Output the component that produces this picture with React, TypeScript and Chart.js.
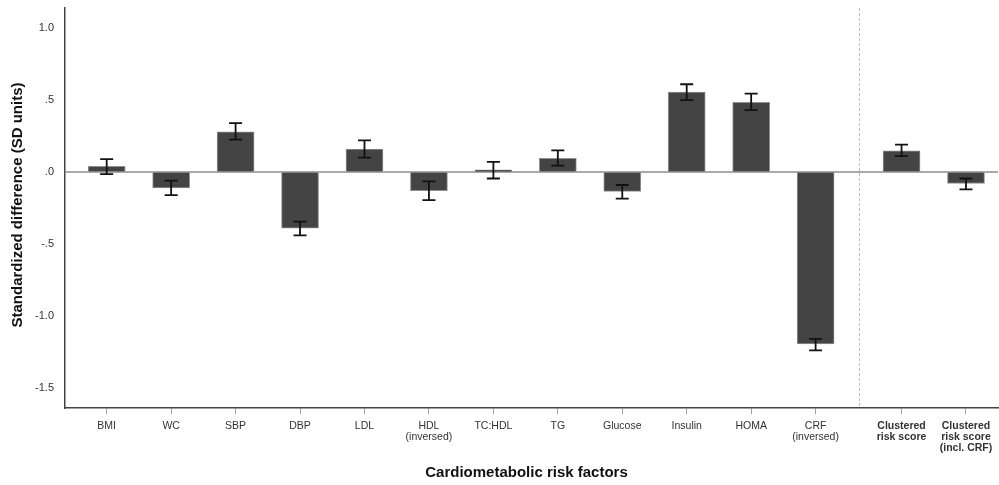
import React, { useEffect, useRef } from "react";
import { Chart, registerables } from "chart.js";

Chart.register(...registerables);

// Cardiometabolic risk factors and the two clustered scores
const categories: string[][] = [
  ["BMI"],
  ["WC"],
  ["SBP"],
  ["DBP"],
  ["LDL"],
  ["HDL", "(inversed)"],
  ["TC:HDL"],
  ["TG"],
  ["Glucose"],
  ["Insulin"],
  ["HOMA"],
  ["CRF", "(inversed)"],
  ["Clustered", "risk score"],
  ["Clustered", "risk score", "(incl. CRF)"],
];

// Standardized difference (SD units) with 95% CI
const means = [0.04, -0.11, 0.28, -0.39, 0.16, -0.13, 0.015, 0.095, -0.135, 0.555, 0.485, -1.195, 0.148, -0.08];
const lower = [-0.015, -0.16, 0.225, -0.44, 0.10, -0.195, -0.045, 0.045, -0.185, 0.50, 0.43, -1.24, 0.11, -0.12];
const upper = [0.09, -0.06, 0.34, -0.345, 0.22, -0.065, 0.07, 0.15, -0.09, 0.61, 0.545, -1.16, 0.19, -0.045];

const yTicks = [-1.5, -1.0, -0.5, 0, 0.5, 1.0];

const summaryStart = 12; // first clustered score
const summaryGap = 1 / 3; // extra spacing before the clustered scores
const positions = categories.map((_, i) => i + (i >= summaryStart ? summaryGap : 0));
const dividerAt = (positions[summaryStart - 1] + positions[summaryStart]) / 2;

const FONT = "'Liberation Sans', Arial, Helvetica, sans-serif";

const fmtTick = (v: number) => v.toFixed(1).replace(/^(-?)0\./, "$1.");

const overlayPlugin = {
  id: "overlay",
  beforeDatasetsDraw(chart: any) {
    const { ctx, chartArea, scales } = chart;
    const x = scales.x;
    const y = scales.y;
    ctx.save();
    // zero reference line
    const y0 = y.getPixelForValue(0);
    ctx.strokeStyle = "#8c8c8c";
    ctx.lineWidth = 1.5;
    ctx.beginPath();
    ctx.moveTo(chartArea.left, y0);
    ctx.lineTo(chartArea.right, y0);
    ctx.stroke();
    // divider between single factors and clustered scores
    const xd = Math.round(x.getPixelForValue(dividerAt)) + 0.5;
    ctx.strokeStyle = "#bdbdbd";
    ctx.lineWidth = 1;
    ctx.setLineDash([3, 2]);
    ctx.beginPath();
    ctx.moveTo(xd, chartArea.top);
    ctx.lineTo(xd, chartArea.bottom);
    ctx.stroke();
    ctx.restore();
  },
  afterDatasetsDraw(chart: any) {
    const { ctx, scales } = chart;
    const x = scales.x;
    const y = scales.y;
    ctx.save();
    ctx.strokeStyle = "#111111";
    ctx.lineWidth = 1.8;
    const cap = 6.5;
    positions.forEach((p, i) => {
      const px = x.getPixelForValue(p);
      const yl = y.getPixelForValue(lower[i]);
      const yh = y.getPixelForValue(upper[i]);
      ctx.beginPath();
      ctx.moveTo(px, yl);
      ctx.lineTo(px, yh);
      ctx.moveTo(px - cap, yl);
      ctx.lineTo(px + cap, yl);
      ctx.moveTo(px - cap, yh);
      ctx.lineTo(px + cap, yh);
      ctx.stroke();
    });
    ctx.restore();
  },
  afterDraw(chart: any) {
    const { ctx, chartArea } = chart;
    ctx.save();
    ctx.fillStyle = "#111111";
    ctx.font = `bold 15px ${FONT}`;
    ctx.textAlign = "center";
    ctx.textBaseline = "middle";
    ctx.fillText("Cardiometabolic risk factors", (chartArea.left + chartArea.right) / 2 - 5, 473);
    ctx.translate(18, (chartArea.top + chartArea.bottom) / 2 - 3);
    ctx.rotate(-Math.PI / 2);
    ctx.fillText("Standardized difference (SD units)", 0, 0);
    ctx.restore();
  },
};

export default function App() {
  const canvasRef = useRef<HTMLCanvasElement | null>(null);

  useEffect(() => {
    if (!canvasRef.current) return;
    const chart = new Chart(canvasRef.current, {
      type: "bar",
      data: {
        datasets: [
          {
            data: positions.map((p, i) => ({ x: p, y: means[i] })),
            backgroundColor: "#444444",
            borderColor: "#8f8f8f",
            borderWidth: 1,
            barThickness: 37,
          },
        ],
      },
      options: {
        responsive: false,
        animation: false,
        layout: { padding: { top: 8, right: 1, left: 0, bottom: 0 } },
        plugins: {
          legend: { display: false },
          tooltip: { enabled: false },
        },
        scales: {
          x: {
            type: "linear",
            offset: false,
            min: -0.647,
            max: 13.83,
            afterFit(scale: any) {
              scale.height = 77;
              scale.paddingLeft = 0;
              scale.paddingRight = 0;
            },
            afterBuildTicks(scale: any) {
              scale.ticks = positions.map((v) => ({ value: v }));
            },
            grid: {
              display: true,
              offset: false,
              drawOnChartArea: false,
              drawTicks: true,
              tickLength: 6,
              color: "#a0a0a0",
            },
            border: { display: true, color: "#444444", width: 1.5 },
            ticks: {
              autoSkip: false,
              maxRotation: 0,
              minRotation: 0,
              padding: 7,
              color: "#333333",
              font: (c: any) => ({
                family: FONT,
                size: 10.5,
                lineHeight: 1.05,
                weight: c.index >= summaryStart ? "bold" : "normal",
              }),
              callback: (_v: any, i: number) => categories[i],
            },
          },
          y: {
            type: "linear",
            min: -1.64,
            max: 1.14,
            afterFit(scale: any) {
              scale.width = 65;
              scale.paddingTop = 0;
              scale.paddingBottom = 0;
            },
            afterBuildTicks(scale: any) {
              scale.ticks = yTicks.map((v) => ({ value: v }));
            },
            grid: { display: true, drawOnChartArea: false, drawTicks: false },
            border: { display: true, color: "#444444", width: 1.5 },
            ticks: {
              padding: 11,
              color: "#333333",
              font: { family: FONT, size: 11 },
              callback: (v: any) => fmtTick(Number(v)),
            },
          },
        },
      },
      plugins: [overlayPlugin],
    });
    return () => chart.destroy();
  }, []);

  return (
    <div style={{ position: "absolute", left: 0, top: 0, width: 999, height: 485, background: "#ffffff" }}>
      <canvas ref={canvasRef} width={999} height={485} style={{ display: "block" }} />
    </div>
  );
}
